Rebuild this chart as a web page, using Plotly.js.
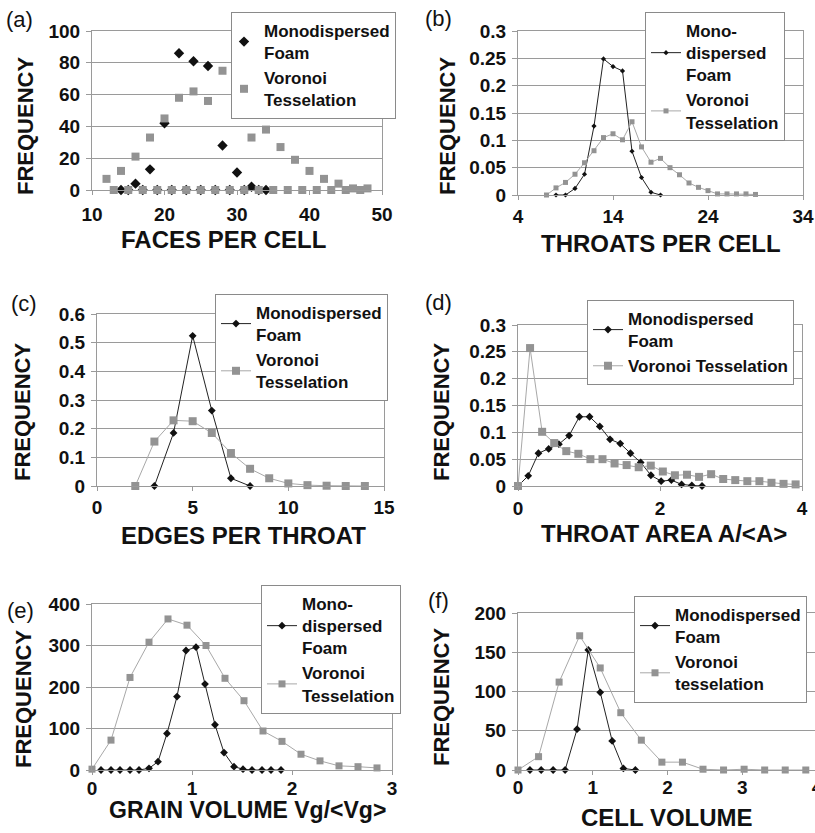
<!DOCTYPE html>
<html>
<head>
<meta charset="utf-8">
<script src="https://cdn.plot.ly/plotly-3.0.1.min.js"></script>
<style>
html,body{margin:0;padding:0;background:#fff;overflow:hidden;width:815px;height:833px;}
#chart{width:830px;height:833px;}
</style>
</head>
<body>
<div id="chart"></div>
<script>
// ---------- DATA ----------
// (a) faces per cell
const aXMono = [14,15,16,17,18,19,20,21,22,23,24,25,26,27,28,29,30,31,32,33,34];
const aMono  = [0,0,4,0,13,0,42,0,86,0,81,0,78,0,28,0,11,0,2,0,0];
const aXVor  = [12,13,14,15,16,17,18,19,20,21,22,23,24,25,26,27,28,29,30,31,32,33,34,35,36,37,38,39,40,41,42,43,44,45,46,47,48];
const aVor   = [7,0,12,0,21,0,33,0,45,0,58,0,62,0,56,0,75,0,48,0,33,0,38,0,27,0,19,0,12,0,7,0,4,0,1,0,1];
// (b) throats per cell
const bXMono = [8,9,10,11,12,13,14,15,16,17,18,19];
const bMono  = [0,0,0.012,0.038,0.126,0.249,0.235,0.227,0.080,0.032,0.005,0];
const bXVor  = [7,8,9,10,11,12,13,14,15,16,17,18,19,20,21,22,23,24,25,26,27,28,29];
const bVor   = [0,0.013,0.023,0.038,0.059,0.081,0.105,0.112,0.101,0.134,0.088,0.060,0.067,0.050,0.037,0.022,0.014,0.008,0.002,0.002,0.002,0.002,0.001];
// (c) edges per throat
const cXMono = [3,4,5,6,7,8];
const cMono  = [0,0.185,0.524,0.263,0.027,0];
const cXVor  = [2,3,4,5,6,7,8,9,10,11,12,13,14];
const cVor   = [0,0.155,0.229,0.226,0.185,0.115,0.060,0.027,0.009,0.003,0.001,0,0];
// (d) throat area
const dXMono = [0,0.144,0.288,0.432,0.576,0.72,0.864,1.008,1.152,1.296,1.44,1.584,1.728,1.872,2.016,2.16,2.304,2.448,2.592];
const dMono  = [0,0.019,0.061,0.069,0.078,0.094,0.129,0.129,0.111,0.087,0.079,0.061,0.044,0.020,0.009,0.011,0.003,0.001,0];
const dXVor  = [0,0.17,0.34,0.51,0.68,0.85,1.02,1.19,1.36,1.53,1.70,1.87,2.04,2.21,2.38,2.55,2.72,2.89,3.06,3.23,3.40,3.57,3.74,3.91];
const dVor   = [0,0.257,0.101,0.080,0.065,0.060,0.050,0.050,0.042,0.039,0.035,0.038,0.027,0.020,0.021,0.017,0.022,0.013,0.011,0.009,0.009,0.006,0.004,0.003];
// (e) grain volume
const eXMono = [0.09,0.19,0.28,0.38,0.47,0.57,0.66,0.75,0.85,0.94,1.04,1.13,1.23,1.32,1.42,1.51,1.60,1.70,1.79,1.89];
const eMono  = [0,0,0,0,0,4,20,88,177,288,296,207,109,42,8,2,0,0,0,0];
const eXVor  = [0,0.19,0.38,0.57,0.76,0.95,1.14,1.33,1.52,1.71,1.90,2.09,2.28,2.47,2.66,2.85];
const eVor   = [2,72,223,308,364,349,300,221,167,94,69,38,22,10,8,5];
// (f) cell volume
const fXMono = [0.16,0.31,0.47,0.63,0.79,0.94,1.10,1.26,1.41,1.57];
const fMono  = [0,0,0,0,52,153,99,37,2,0];
const fXVor  = [0,0.275,0.55,0.825,1.10,1.375,1.65,1.925,2.20,2.475,2.75,3.025,3.30,3.575,3.85];
const fVor   = [0,17,112,171,130,73,38,10,10,1,0,1,0,0,0];

// tick labels
const aXTicks = [10,20,30,40,50];          const aYTicks = [0,20,40,60,80,100];
const bXTicks = [4,14,24,34];              const bYTicks = [0,0.05,0.1,0.15,0.2,0.25,0.3];
const cXTicks = [0,5,10,15];               const cYTicks = [0,0.1,0.2,0.3,0.4,0.5,0.6];
const dXTicks = [0,2,4];                   const dYTicks = [0,0.05,0.1,0.15,0.2,0.25,0.3];
const eXTicks = [0,1,2,3];                 const eYTicks = [0,100,200,300,400];
const fXTicks = [0,1,2,3,4];               const fYTicks = [0,50,100,150,200];

const panelLabels = ['(a)','(b)','(c)','(d)','(e)','(f)'];
const xTitles = ['FACES PER CELL','THROATS PER CELL','EDGES PER THROAT','THROAT AREA A/&lt;A&gt;','GRAIN VOLUME Vg/&lt;Vg&gt;','CELL VOLUME'];
const yTitle = 'FREQUENCY';
const monoNames = ['Monodispersed<br>Foam','Mono-<br>dispersed<br>Foam','Monodispersed<br>Foam','Monodispersed<br>Foam','Mono-<br>dispersed<br>Foam','Monodispersed<br>Foam'];
const vorNames  = ['Voronoi<br>Tesselation','Voronoi<br>Tesselation','Voronoi<br>Tesselation','Voronoi Tesselation','Voronoi<br>Tesselation','Voronoi<br>tesselation'];

// ---------- LAYOUT HELPERS ----------
const W = 830, H = 833;
const FONT = 'Liberation Sans, Arial, Helvetica, sans-serif';
const px = v => v / W;
const py = v => 1 - v / H;
const bold = arr => arr.map(v => '<b>' + v + '</b>');

// plot boxes in pixels: [x0,x1,y0(top),y1(bottom)]
const boxes = [
  [92,382,31,190],
  [518,803,31,195],
  [97,384,314,486],
  [518,802,325,486],
  [92,392,604,770],
  [518,817,613,770]
];
const xRanges = [[10,50],[4,34],[0,15],[0,4],[0,3],[0,4]];
const yRanges = [[0,100],[0,0.3],[0,0.6],[0,0.3],[0,400],[0,200]];
const xTicks = [aXTicks,bXTicks,cXTicks,dXTicks,eXTicks,fXTicks];
const yTicks = [aYTicks,bYTicks,cYTicks,dYTicks,eYTicks,fYTicks];
const xStandoff = [3,0,0,1,-3,-4];

const monoX = [aXMono,bXMono,cXMono,dXMono,eXMono,fXMono];
const monoY = [aMono,bMono,cMono,dMono,eMono,fMono];
const vorX  = [aXVor,bXVor,cXVor,dXVor,eXVor,fXVor];
const vorY  = [aVor,bVor,cVor,dVor,eVor,fVor];

const monoSize = [8,4,6,6,6,6];
const vorSize  = [8,5,8,8,7,7];

const legendPos = [[231,12],[645,12],[215,294],[587,300],[261,585],[634,596]];
const xTitlePos = [[223,240],[661,243],[243,535],[664,533],[247,810],[667,817]];
const yTitlePos = [[25,126],[447,126],[22,412],[441,412],[23,699],[441,697]];
const labelPos  = [[19,20],[438,18],[24,303],[438,302],[20,610],[438,600]];

const traces = [];
const layout = {
  width: W, height: H,
  margin: {l:0,r:0,t:0,b:0},
  paper_bgcolor: '#fff', plot_bgcolor: '#fff',
  font: {family: FONT, color: '#111'},
  annotations: [],
  showlegend: true
};

const tickFont = {family: FONT, size: 19, color: '#111'};

for (let i = 0; i < 6; i++) {
  const n = i === 0 ? '' : String(i+1);
  const b = boxes[i];
  const lg = i === 0 ? 'legend' : 'legend' + (i+1);
  const isA = i === 0;
  traces.push({
    type: 'scatter', mode: isA ? 'markers' : 'lines+markers',
    x: monoX[i], y: monoY[i], name: monoNames[i],
    xaxis: 'x' + n, yaxis: 'y' + n, legend: lg,
    line: {color: '#222', width: 1},
    marker: {symbol: 'diamond', size: monoSize[i], color: '#111'},
    cliponaxis: false
  });
  traces.push({
    type: 'scatter', mode: isA ? 'markers' : 'lines+markers',
    x: vorX[i], y: vorY[i], name: vorNames[i],
    xaxis: 'x' + n, yaxis: 'y' + n, legend: lg,
    line: {color: '#a8a8a8', width: 1},
    marker: {symbol: 'square', size: vorSize[i], color: '#939393'},
    cliponaxis: false
  });
  layout['xaxis' + n] = {
    domain: [px(b[0]), px(b[1])], anchor: 'y' + n,
    range: xRanges[i], tickmode: 'array', tickvals: xTicks[i], ticktext: bold(xTicks[i]),
    showgrid: false, zeroline: false,
    showline: true, linecolor: '#9a9a9a', linewidth: 1, mirror: true,
    ticks: 'outside', ticklen: 4, tickcolor: '#9a9a9a',
    tickfont: tickFont,
    ticklabelstandoff: xStandoff[i], fixedrange: true
  };
  layout['yaxis' + n] = {
    domain: [py(b[3]), py(b[2])], anchor: 'x' + n,
    range: yRanges[i], tickmode: 'array', tickvals: yTicks[i], ticktext: bold(yTicks[i]),
    showgrid: true, gridcolor: '#9a9a9a', gridwidth: 1, zeroline: false,
    showline: true, linecolor: '#9a9a9a', linewidth: 1, mirror: true,
    ticks: 'outside', ticklen: 5, tickcolor: '#9a9a9a',
    tickfont: tickFont,
    ticklabelstandoff: 2, fixedrange: true
  };
  layout[lg] = {
    x: px(legendPos[i][0]), y: py(legendPos[i][1]),
    xanchor: 'left', yanchor: 'top',
    bgcolor: '#fff', bordercolor: '#8a8a8a', borderwidth: 1,
    font: {family: FONT, size: 17, weight: 'bold', color: '#111'},
    itemwidth: 30, tracegroupgap: 0, traceorder: 'normal',
    indentation: isA ? -8 : 0
  };
  layout.annotations.push({
    xref: 'paper', yref: 'paper', x: px(xTitlePos[i][0]), y: py(xTitlePos[i][1]),
    xanchor: 'center', yanchor: 'middle', showarrow: false,
    text: '<b>' + xTitles[i] + '</b>', font: {family: FONT, size: i === 4 ? 23 : 24, color: '#111'}
  });
  layout.annotations.push({
    xref: 'paper', yref: 'paper', x: px(yTitlePos[i][0]), y: py(yTitlePos[i][1]),
    xanchor: 'center', yanchor: 'middle', showarrow: false, textangle: -90,
    text: '<b>' + yTitle + '</b>', font: {family: FONT, size: 22, color: '#111'}
  });
  layout.annotations.push({
    xref: 'paper', yref: 'paper', x: px(labelPos[i][0]), y: py(labelPos[i][1]),
    xanchor: 'center', yanchor: 'middle', showarrow: false,
    text: panelLabels[i], font: {family: FONT, size: 22, color: '#111'}
  });
}

Plotly.newPlot('chart', traces, layout, {displayModeBar: false, staticPlot: true});
</script>
</body>
</html>
